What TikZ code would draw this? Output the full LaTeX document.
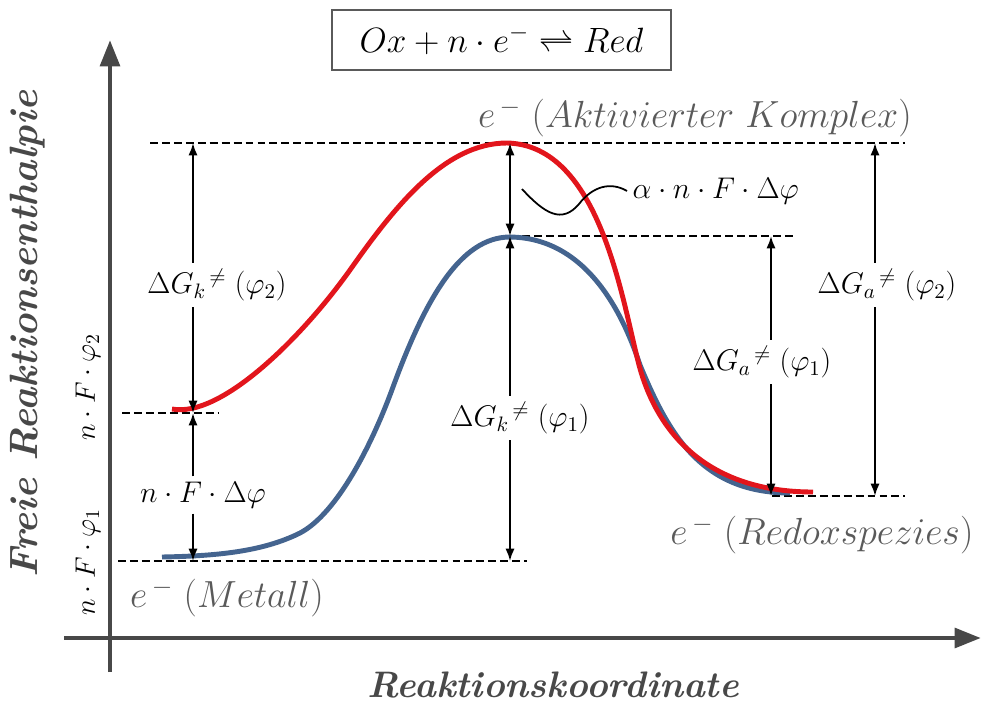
\RequirePackage{fix-cm}
\documentclass[tikz,border=0pt]{standalone}
\usepackage{fontspec}
\usepackage{amsmath}
\usetikzlibrary{arrows.meta}

\definecolor{curvered}{HTML}{E2151C}
\definecolor{curveblue}{HTML}{44648F}
\definecolor{axisgray}{HTML}{484848}
\definecolor{labelgray}{HTML}{5A5A5A}

\begin{document}
\begin{tikzpicture}[x=0.02cm,y=-0.02cm,
    level/.style={line width=1.3pt,dash pattern=on 4.5pt off 2.3pt},
    dim/.style={line width=1.1pt,-{Latex[length=7pt,width=5.2pt]}},
    dimboth/.style={line width=1.1pt,{Latex[length=7pt,width=5.2pt]}-{Latex[length=7pt,width=5.2pt]}},
    axis/.style={line width=2.8pt,axisgray,-{Triangle[length=15pt,width=11pt]}},
    eqlabel/.style={inner sep=3pt,font=\fontsize{17}{20}\selectfont},
    potlabel/.style={inner sep=3pt,font=\fontsize{16}{19}\selectfont},
    statelabel/.style={labelgray,font=\fontsize{21.5}{25}\selectfont},
    axislabel/.style={axisgray,font=\fontsize{21}{25}\selectfont\bfseries\itshape}]
      \useasboundingbox (0,0) rectangle (981,704);

      % axes
      \draw[axis] (110,672) -- (110,40);
      \draw[axis] (64,638) -- (981,638);
      \node[axislabel,inner sep=1pt] (xlab) at (553,685) {Reaktionskoordinate};
      \node[axislabel,font=\fontsize{22.5}{26}\selectfont\bfseries\itshape,rotate=90] (ylab) at (28,334) {Freie Reaktionsenthalpie};

      % reaction
      \node[draw=labelgray,line width=1.2pt,minimum width=6.78cm,minimum height=1.2cm,
            font=\fontsize{20}{24}\selectfont] (title) at (501.5,40)
            {$Ox + n\cdot e^{-} \rightleftharpoons Red$};

      % levels
      \draw[level] (150,143) -- (905,143);
      \draw[level] (510,236) -- (793,236);
      \draw[level] (122,413) -- (218,413);
      \draw[level] (118,561) -- (527,561);
      \draw[level] (772,496) -- (905,496);

      % energy curves
      \draw[curveblue,line width=2.8pt] (162,557) .. controls (215,556) and (262,552) .. (300,533)
        .. controls (338,513) and (373,442) .. (393,387)
        .. controls (425,300) and (460,237) .. (510,237)
        .. controls (590,238) and (625,320) .. (640,365)
        .. controls (668,432) and (700,493) .. (790,493);
      \draw[curvered,line width=2.8pt] (172,409) .. controls (220,418) and (300,340) .. (350,270)
        .. controls (395,206) and (445,143) .. (507,143)
        .. controls (600,145) and (622,300) .. (639,365)
        .. controls (655,425) and (700,492) .. (813,492);

      % arrow ends
      \coordinate (topL) at (193,143);
      \coordinate (redL) at (193,413);
      \coordinate (metL) at (193,561);
      \coordinate (topM) at (510,143);
      \coordinate (bluM) at (510,236);
      \coordinate (metM) at (510,561);
      \coordinate (bluR) at (771,236);
      \coordinate (redR) at (771,496);
      \coordinate (topR) at (875,143);
      \coordinate (redRR) at (875,496);

      \node[eqlabel] (lkG2) at (217,285) {$\Delta G_k{}^{\,\neq}\;(\varphi_2)$};
      \node[eqlabel] (lnF) at (203,495) {$n\cdot F\cdot\Delta\varphi$};
      \node[eqlabel] (lkG1) at (520,418) {$\Delta G_k{}^{\,\neq}\;(\varphi_1)$};
      \node[eqlabel] (laG1) at (762,362) {$\Delta G_a{}^{\,\neq}\;(\varphi_1)$};
      \node[eqlabel] (laG2) at (887,285) {$\Delta G_a{}^{\,\neq}\;(\varphi_2)$};
      \node[eqlabel,anchor=west] (alpha) at (627,191) {$\alpha\cdot n\cdot F\cdot\Delta\varphi$};

      \draw[dim] (lkG2.north -| topL) -- (topL);
      \draw[dim] (lkG2.south -| topL) -- (redL);
      \draw[dim] (lnF.north -| redL) -- (redL);
      \draw[dim] (lnF.south -| redL) -- (metL);
      \draw[dimboth] (topM) -- (bluM);
      \draw[dim] (lkG1.north -| bluM) -- (bluM);
      \draw[dim] (lkG1.south -| bluM) -- (metM);
      \draw[dim] (laG1.north -| bluR) -- (bluR);
      \draw[dim] (laG1.south -| bluR) -- (redR);
      \draw[dim] (laG2.north -| topR) -- (topR);
      \draw[dim] (laG2.south -| topR) -- (redRR);

      \coordinate (tildeL) at (522,189);
      \draw[line width=1pt] (tildeL) .. controls (545,214) and (562,224) .. (579,204)
        .. controls (592,187) and (610,181) .. (alpha.west);

      % potentials
      \node[potlabel,rotate=90] (phiTwo) at (88,387) {$n\cdot F\cdot\varphi_2$};
      \node[potlabel,rotate=90] (phiOne) at (88,562) {$n\cdot F\cdot\varphi_1$};

      % states
      \node[statelabel] (komplex) at (695,118) {$e^{\,-}\;(Aktivierter\ Komplex)$};
      \node[statelabel] (metall) at (227,598) {$e^{\,-}\;(Metall)$};
      \node[statelabel] (redox) at (822,535) {$e^{\,-}\;(Redoxspezies)$};
    \end{tikzpicture}
\end{document}
